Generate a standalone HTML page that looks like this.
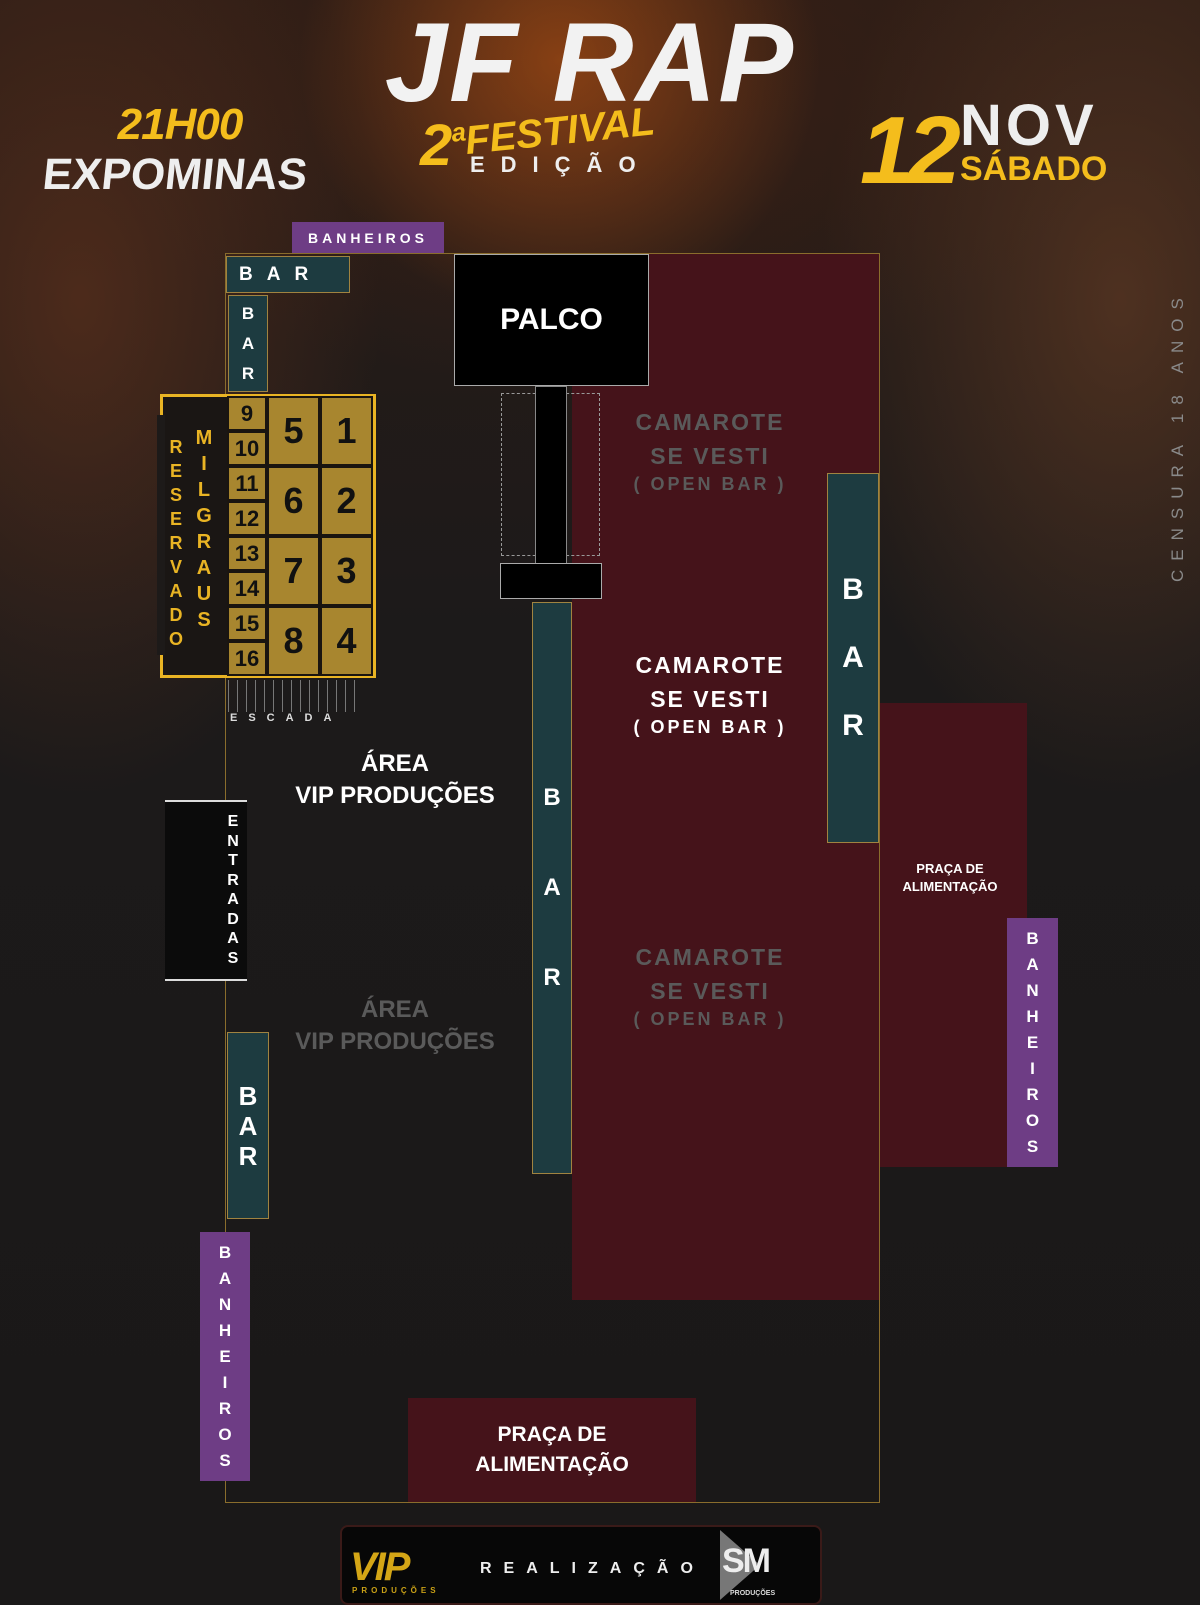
<!DOCTYPE html>
<html><head><meta charset="utf-8"><style>
body{margin:0;width:1200px;height:1600px;overflow:hidden;background:#1b1a1a;font-family:"Liberation Sans",sans-serif;}
#bg{position:absolute;left:0;top:0;width:1200px;height:1600px;background:
radial-gradient(ellipse 260px 260px at 560px 60px,rgba(200,90,20,.55),transparent),
radial-gradient(ellipse 300px 500px at 80px 300px,rgba(110,55,30,.55),transparent),
radial-gradient(ellipse 300px 500px at 1120px 300px,rgba(120,70,40,.5),transparent),
radial-gradient(ellipse 500px 300px at 600px 100px,rgba(70,35,20,.6),transparent),
linear-gradient(#2a1c16,#1c1a1a 40%,#1a1818);}
.a{position:absolute;box-sizing:border-box;white-space:nowrap;}
.c{display:flex;align-items:center;justify-content:center;text-align:center;color:#fff;font-weight:bold;}
.v{flex-direction:column;line-height:1.5;}
.teal{background:#1d3b40;border:1px solid #a08340;}
.pur{background:#6e3d85;color:#fff;}
.red{background:#45131a;}
.gc{background:#a8862f;border:2px solid #1a1510;color:#111;font-weight:bold;}
</style></head><body>
<div id="bg"></div>
<!-- header -->
<div class="a" style="left:45px;top:100px;width:270px;text-align:center;color:#f4bd1c;font:italic bold 44px 'Liberation Sans';letter-spacing:-1px">21H00</div>
<div class="a" style="left:40px;top:150px;width:270px;text-align:center;color:#eee;font:bold 44px 'Liberation Sans';transform:skewX(-6deg)">EXPOMINAS</div>
<div class="a" style="left:375px;top:0;width:430px;text-align:center;color:#f2f2f2;font:italic bold 112px 'Liberation Sans';line-height:125px;letter-spacing:2px">JF RAP</div>
<div class="a" style="left:420px;top:112px;color:#f4bd1c;font:italic bold 58px 'Liberation Sans'">2</div>
<div class="a" style="left:450px;top:110px;color:#f4bd1c;font:italic bold 40px 'Liberation Sans';transform:rotate(-6deg)">ªFESTIVAL</div>
<div class="a" style="left:470px;top:152px;color:#eee;font:bold 22px 'Liberation Sans';letter-spacing:16px">EDIÇÃO</div>
<div class="a" style="left:860px;top:96px;color:#f4bd1c;font:italic bold 96px 'Liberation Sans';letter-spacing:-6px">12</div>
<div class="a" style="left:960px;top:92px;color:#eee;font:bold 58px 'Liberation Sans';letter-spacing:4px">NOV</div>
<div class="a" style="left:960px;top:150px;color:#f4bd1c;font:bold 34px 'Liberation Sans'">SÁBADO</div>
<div class="a" style="left:1168px;top:582px;width:320px;color:#8a8a8a;font-size:17px;letter-spacing:9px;transform:rotate(-90deg);transform-origin:0 0">CENSURA 18 ANOS</div>
<!-- venue -->
<div class="a" style="left:225px;top:253px;width:655px;height:1250px;border:1.5px solid #8a6d2c"></div>
<div class="a red" style="left:572px;top:254px;width:307px;height:1046px"></div>
<div class="a red" style="left:880px;top:703px;width:147px;height:464px"></div>
<div class="a c" style="left:880px;top:860px;width:140px;font-size:13px;line-height:18px">PRAÇA DE<br>ALIMENTAÇÃO</div>
<div class="a c v" style="left:630px;top:405px;width:160px;font-size:23px;line-height:34px;color:#5a5a5a;letter-spacing:2px">CAMAROTE<br>SE VESTI<br><span style="font-size:18px;line-height:22px;letter-spacing:3px">( OPEN BAR )</span></div>
<div class="a c v" style="left:630px;top:648px;width:160px;font-size:23px;line-height:34px;letter-spacing:2px">CAMAROTE<br>SE VESTI<br><span style="font-size:18px;line-height:22px;letter-spacing:3px">( OPEN BAR )</span></div>
<div class="a c v" style="left:630px;top:940px;width:160px;font-size:23px;line-height:34px;color:#5a5a5a;letter-spacing:2px">CAMAROTE<br>SE VESTI<br><span style="font-size:18px;line-height:22px;letter-spacing:3px">( OPEN BAR )</span></div>
<!-- palco -->
<div class="a c" style="left:454px;top:254px;width:195px;height:132px;background:#000;border:1.5px solid #aaa;font-size:30px">PALCO</div>
<div class="a" style="left:501px;top:393px;width:40px;height:163px;border:1.5px dashed #999"></div>
<div class="a" style="left:561px;top:393px;width:39px;height:163px;border:1.5px dashed #999"></div>
<div class="a" style="left:535px;top:386px;width:32px;height:178px;background:#000;border:1px solid #888"></div>
<div class="a" style="left:500px;top:563px;width:102px;height:36px;background:#000;border:1.5px solid #aaa"></div>
<!-- bars -->
<div class="a teal c v" style="left:532px;top:602px;width:40px;height:572px;font-size:24px;line-height:90px">B<br>A<br>R</div>
<div class="a teal c v" style="left:827px;top:473px;width:52px;height:370px;font-size:30px;line-height:68px">B<br>A<br>R</div>
<div class="a teal c v" style="left:227px;top:1032px;width:42px;height:187px;font-size:26px;line-height:30px">B<br>A<br>R</div>
<div class="a teal c" style="left:226px;top:256px;width:124px;height:37px;font-size:19px;letter-spacing:14px;justify-content:flex-start;padding-left:12px">BAR</div>
<div class="a teal c v" style="left:228px;top:295px;width:40px;height:97px;font-size:17px;line-height:30px">B<br>A<br>R</div>
<div class="a pur c" style="left:292px;top:222px;width:152px;height:31px;font-size:14px;letter-spacing:4px">BANHEIROS</div>
<div class="a pur c v" style="left:1007px;top:918px;width:51px;height:249px;font-size:17px;line-height:26px">B<br>A<br>N<br>H<br>E<br>I<br>R<br>O<br>S</div>
<div class="a pur c v" style="left:200px;top:1232px;width:50px;height:249px;font-size:17px;line-height:26px">B<br>A<br>N<br>H<br>E<br>I<br>R<br>O<br>S</div>
<!-- reserved -->
<div class="a" style="left:160px;top:394px;width:216px;height:284px;border:3px solid #e9b424;background:#1a1614"></div>
<div class="a" style="left:157px;top:415px;width:8px;height:240px;background:#1d1a19"></div>
<div class="a c v" style="left:164px;top:435px;width:24px;font-size:18px;line-height:24px;color:#e9b424">R<br>E<br>S<br>E<br>R<br>V<br>A<br>D<br>O</div>
<div class="a c v" style="left:192px;top:425px;width:24px;font-size:20px;line-height:26px;color:#e9b424">M<br>I<br>L<br>G<br>R<br>A<br>U<br>S</div>
<div class="a gc c" style="left:227px;top:396px;width:40px;height:35px;color:#111;font-size:22px">9</div>
<div class="a gc c" style="left:227px;top:431px;width:40px;height:35px;color:#111;font-size:22px">10</div>
<div class="a gc c" style="left:227px;top:466px;width:40px;height:35px;color:#111;font-size:22px">11</div>
<div class="a gc c" style="left:227px;top:501px;width:40px;height:35px;color:#111;font-size:22px">12</div>
<div class="a gc c" style="left:227px;top:536px;width:40px;height:35px;color:#111;font-size:22px">13</div>
<div class="a gc c" style="left:227px;top:571px;width:40px;height:35px;color:#111;font-size:22px">14</div>
<div class="a gc c" style="left:227px;top:606px;width:40px;height:35px;color:#111;font-size:22px">15</div>
<div class="a gc c" style="left:227px;top:641px;width:40px;height:35px;color:#111;font-size:22px">16</div>
<div class="a gc c" style="left:267px;top:396px;width:53px;height:70px;color:#111;font-size:36px">5</div>
<div class="a gc c" style="left:320px;top:396px;width:53px;height:70px;color:#111;font-size:36px">1</div>
<div class="a gc c" style="left:267px;top:466px;width:53px;height:70px;color:#111;font-size:36px">6</div>
<div class="a gc c" style="left:320px;top:466px;width:53px;height:70px;color:#111;font-size:36px">2</div>
<div class="a gc c" style="left:267px;top:536px;width:53px;height:70px;color:#111;font-size:36px">7</div>
<div class="a gc c" style="left:320px;top:536px;width:53px;height:70px;color:#111;font-size:36px">3</div>
<div class="a gc c" style="left:267px;top:606px;width:53px;height:70px;color:#111;font-size:36px">8</div>
<div class="a gc c" style="left:320px;top:606px;width:53px;height:70px;color:#111;font-size:36px">4</div>
<!-- escada -->
<div class="a" style="left:228px;top:680px;width:130px;height:32px;background:repeating-linear-gradient(90deg,#777 0 1px,transparent 1px 9px)"></div>
<div class="a" style="left:230px;top:712px;color:#ddd;font-size:11px;font-weight:bold;letter-spacing:11px">ESCADA</div>
<div class="a c" style="left:270px;top:748px;width:250px;font-size:24px;line-height:32px">ÁREA<br>VIP PRODUÇÕES</div>
<div class="a c" style="left:270px;top:994px;width:250px;font-size:24px;line-height:32px;color:#5a5a5a">ÁREA<br>VIP PRODUÇÕES</div>
<!-- entradas -->
<div class="a" style="left:165px;top:800px;width:82px;height:181px;background:#0b0b0b;border-top:2px solid #ddd;border-bottom:2px solid #ddd"></div>
<div class="a c v" style="left:220px;top:812px;width:26px;font-size:16px;line-height:19.5px">E<br>N<br>T<br>R<br>A<br>D<br>A<br>S</div>
<div class="a red c" style="left:408px;top:1398px;width:288px;height:104px;font-size:21px;line-height:30px">PRAÇA DE<br>ALIMENTAÇÃO</div>
<!-- footer -->
<div class="a" style="left:340px;top:1525px;width:482px;height:80px;background:#070707;border:2px solid #3a1a18;border-radius:8px"></div>
<div class="a" style="left:350px;top:1545px;color:#d4a616;font:italic bold 40px 'Liberation Sans';letter-spacing:-2px">VIP</div>
<div class="a" style="left:352px;top:1586px;color:#c9a016;font-size:8px;font-weight:bold;letter-spacing:4px">PRODUÇÕES</div>
<div class="a" style="left:480px;top:1560px;color:#eee;font-size:16px;font-weight:bold;letter-spacing:12px">REALIZAÇÃO</div>
<div class="a" style="left:720px;top:1530px;width:0;height:0;border-top:35px solid transparent;border-bottom:35px solid transparent;border-left:40px solid #777"></div>
<div class="a" style="left:722px;top:1542px;color:#eee;font:bold 34px 'Liberation Sans';letter-spacing:-2px">SM</div>
<div class="a" style="left:730px;top:1590px;color:#ddd;font-size:7px;font-weight:bold">PRODUÇÕES</div>
</body></html>
